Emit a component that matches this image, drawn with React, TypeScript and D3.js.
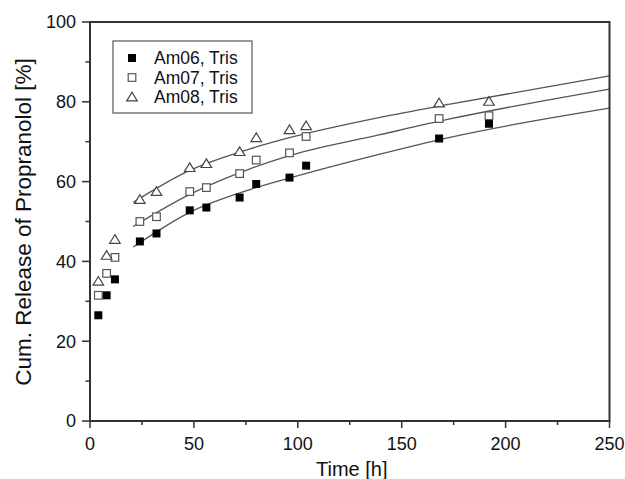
import React from "react";
import * as d3 from "d3";

const times = [4, 8, 12, 24, 32, 48, 56, 72, 80, 96, 104, 168, 192];
const am06 = [26.5, 31.5, 35.5, 45, 47, 52.8, 53.5, 56, 59.4, 61, 64, 70.8, 74.5];
const am07 = [31.5, 37, 41, 50, 51.2, 57.5, 58.5, 62, 65.4, 67.2, 71.3, 75.8, 76.5];
const am08 = [35, 41.5, 45.5, 55.5, 57.5, 63.5, 64.5, 67.5, 71, 73, 74, 79.7, 80.1];

const fitTimes = [20.8, 48, 77, 96, 139.6, 173.2, 250];
const fit06 = [43.6, 52.3, 58.0, 60.9, 66.9, 71.1, 78.4];
const fit07 = [48.75, 56.8, 63.2, 66.5, 71.75, 75.7, 83.2];
const fit08 = [54.8, 62.8, 68.2, 71.0, 76.1, 79.4, 86.5];

const seriesNames = ["Am06, Tris", "Am07, Tris", "Am08, Tris"];
const xTicks = [0, 50, 100, 150, 200, 250];
const xMinor = [25, 75, 125, 175, 225];
const yTicks = [0, 20, 40, 60, 80, 100];
const yMinor = [10, 30, 50, 70, 90];

const W = 625, H = 479;
const L = 90, R = 609.5, T = 22, B = 421;
const FONT = "'Liberation Sans', Arial, sans-serif";
const AX = "#333";

function Marker({ kind, x, y }: { kind: number; x: number; y: number }) {
  if (kind === 0) return <rect x={x - 4} y={y - 4} width={8} height={8} fill="#000" />;
  if (kind === 1)
    return <rect x={x - 3.8} y={y - 3.8} width={7.6} height={7.6} fill="#fff" stroke="#555" strokeWidth={1.2} />;
  const s = 4.8;
  return (
    <path
      d={`M${x},${y - s} L${x + s * 1.1},${y + s * 0.8} L${x - s * 1.1},${y + s * 0.8} Z`}
      fill="#fff"
      stroke="#444"
      strokeWidth={1.2}
    />
  );
}

export default function App() {
  const x = d3.scaleLinear().domain([0, 250]).range([L, R]);
  const y = d3.scaleLinear().domain([0, 100]).range([B, T]);
  const data = [am06, am07, am08];
  const fits = [fit06, fit07, fit08];
  const line = d3
    .line<[number, number]>()
    .x((d) => x(d[0]))
    .y((d) => y(d[1]))
    .curve(d3.curveMonotoneX);

  return (
    <svg width={W} height={H} style={{ position: "absolute", left: 0, top: 0, background: "#fff" }} fontFamily={FONT}>
      <rect x={0} y={0} width={W} height={H} fill="#fff" />
      {fits.map((f, i) => (
        <path
          key={"f" + i}
          d={line(fitTimes.map((t, j) => [t, f[j]] as [number, number])) || ""}
          fill="none"
          stroke="#555"
          strokeWidth={1.3}
        />
      ))}
      {data.map((s, i) =>
        s.map((v, j) => <Marker key={i + "-" + j} kind={i} x={x(times[j])} y={y(v)} />)
      )}
      {/* frame */}
      <rect x={L} y={T} width={R - L} height={B - T} fill="none" stroke={AX} strokeWidth={2} />
      {/* x ticks */}
      {xTicks.map((t) => (
        <g key={"xt" + t}>
          <line x1={x(t)} x2={x(t)} y1={B} y2={B + 7} stroke={AX} strokeWidth={1.5} />
          <text x={x(t)} y={450} textAnchor="middle" fontSize={18} fill="#111">
            {t}
          </text>
        </g>
      ))}
      {xMinor.map((t) => (
        <line key={"xm" + t} x1={x(t)} x2={x(t)} y1={B} y2={B + 4} stroke={AX} strokeWidth={1.5} />
      ))}
      {yTicks.map((t) => (
        <g key={"yt" + t}>
          <line x1={L - 8} x2={L} y1={y(t)} y2={y(t)} stroke={AX} strokeWidth={1.5} />
          <text x={76} y={y(t) + 6.4} textAnchor="end" fontSize={18} fill="#111">
            {t}
          </text>
        </g>
      ))}
      {yMinor.map((t) => (
        <line key={"ym" + t} x1={L - 4.5} x2={L} y1={y(t)} y2={y(t)} stroke={AX} strokeWidth={1.5} />
      ))}
      <text x={(L + R) / 2 + 2} y={476} textAnchor="middle" fontSize={20} fill="#111">
        Time [h]
      </text>
      <text
        transform={`translate(31,222) rotate(-90)`}
        textAnchor="middle"
        fontSize={22.5}
        fill="#111"
      >
        Cum. Release of Propranolol [%]
      </text>
      {/* legend */}
      <rect x={113} y={41} width={139} height={72} fill="#fff" stroke="#555" strokeWidth={1.2} />
      {seriesNames.map((n, i) => (
        <g key={"lg" + i}>
          <Marker kind={i} x={132} y={58 + i * 19.5} />
          <text x={154} y={58 + i * 19.5 + 6.3} fontSize={17.5} fill="#111">
            {n}
          </text>
        </g>
      ))}
    </svg>
  );
}
